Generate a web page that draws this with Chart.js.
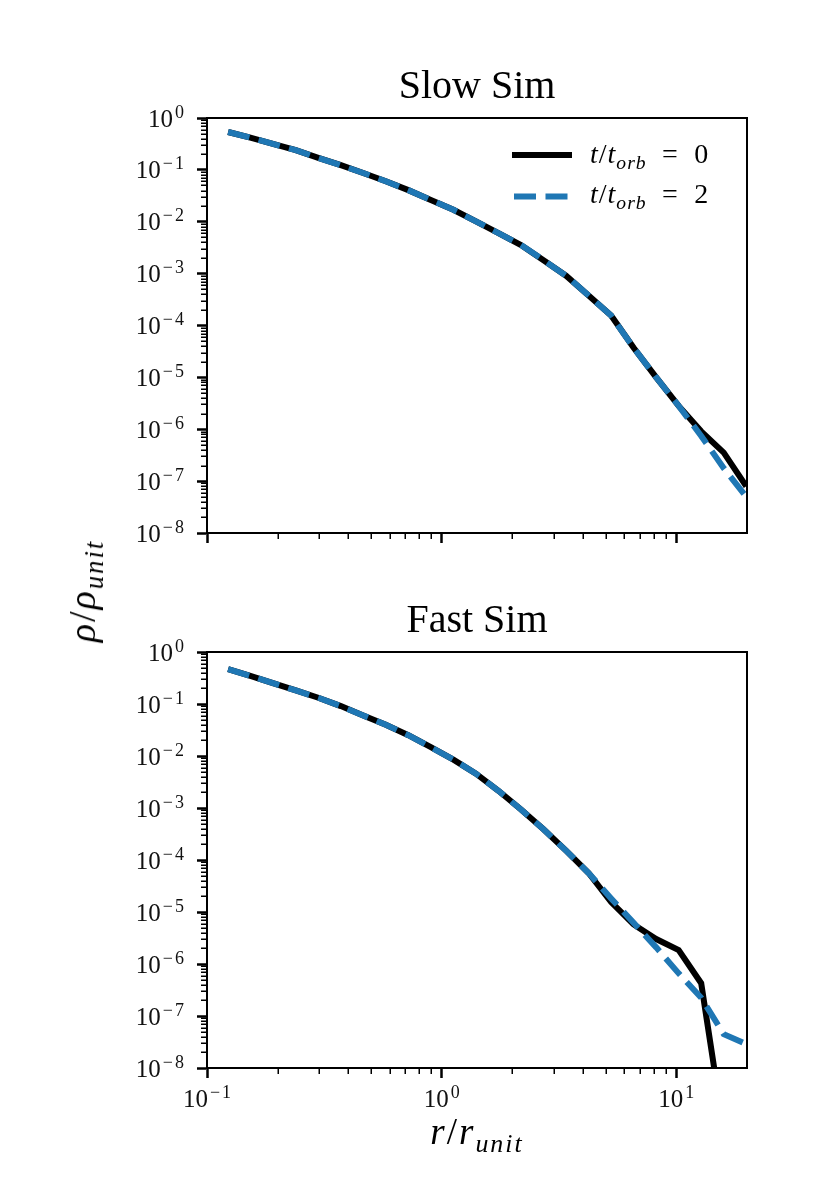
<!DOCTYPE html>
<html>
<head>
<meta charset="utf-8">
<script src="https://cdn.jsdelivr.net/npm/chart.js@4.4.1/dist/chart.umd.min.js"></script>
<style>
  body { margin: 0; background: #fff; }
  #page { position: relative; width: 830px; height: 1186px; overflow: hidden; background: #fff;
          font-family: "Liberation Serif", "DejaVu Serif", serif; color: #000; }
  canvas { position: absolute; left: 0; }
  .txt { position: absolute; line-height: 1; white-space: nowrap; }
  .sub { font-size: 0.7em; position: relative; top: 0.3em; }
  .eq { margin: 0 0.55em; }
  .title { left: 207px; width: 540px; text-align: center; font-size: 40px; }
  .leg { font-size: 28px; letter-spacing: 1px; }
  .axl { letter-spacing: 2px; }
</style>
</head>
<body>
<div id="page">
  <canvas id="slow" width="830" height="593" style="top:0"></canvas>
  <canvas id="fast" width="830" height="593" style="top:593px"></canvas>

  <div class="txt title" style="top:65px">Slow Sim</div>
  <div class="txt title" style="top:599px">Fast Sim</div>

  <svg style="position:absolute;left:0;top:0" width="830" height="240">
    <line x1="512" y1="155" x2="572" y2="155" stroke="#000" stroke-width="6"/>
    <line x1="514" y1="196.5" x2="572" y2="196.5" stroke="#1f77b4" stroke-width="6" stroke-dasharray="22 9.5"/>
  </svg>
  <div class="txt leg" style="left:590px;top:140px"><i>t</i>/<i>t</i><span class="sub"><i>orb</i></span><span class="eq">=</span>0</div>
  <div class="txt leg" style="left:590px;top:180px"><i>t</i>/<i>t</i><span class="sub"><i>orb</i></span><span class="eq">=</span>2</div>

  <div class="txt axl" style="left:82px;top:591px;font-size:38px;transform:translate(-50%,-50%) rotate(-90deg)"><i>ρ</i>/<i>ρ</i><span class="sub"><i>unit</i></span></div>
  <div class="txt axl" style="left:477px;top:1113px;font-size:37px;transform:translateX(-50%)"><i>r</i>/<i>r</i><span class="sub"><i>unit</i></span></div>
</div>

<script>
// radial bins (r / r_unit)
const radius = [0.123, 0.153, 0.191, 0.239, 0.298, 0.372, 0.463, 0.578, 0.721, 0.899,
                1.122, 1.400, 1.746, 2.178, 2.716, 3.388, 4.227, 5.272, 6.577, 8.204,
                10.23, 12.76, 15.92, 19.86];

// density profiles (rho / rho_unit)
const slowT0 = [0.537, 0.417, 0.316, 0.240, 0.170, 0.123, 0.0871, 0.0603, 0.0407, 0.0263,
                0.0170, 0.0102, 6.03e-3, 3.55e-3, 1.82e-3, 9.12e-4, 3.80e-4, 1.55e-4, 3.72e-5, 1.00e-5,
                2.82e-6, 9.12e-7, 3.55e-7, 7.94e-8];
const slowT2 = [0.537, 0.417, 0.316, 0.240, 0.170, 0.123, 0.0871, 0.0603, 0.0407, 0.0263,
                0.0170, 0.0102, 6.03e-3, 3.55e-3, 1.82e-3, 9.12e-4, 3.80e-4, 1.55e-4, 3.72e-5, 1.00e-5,
                2.82e-6, 7.41e-7, 1.78e-7, 5.0e-8];
const fastT0 = [0.468, 0.347, 0.251, 0.182, 0.132, 0.0912, 0.0603, 0.0398, 0.0251, 0.0148,
                8.51e-3, 4.57e-3, 2.14e-3, 9.33e-4, 3.89e-4, 1.51e-4, 5.62e-5, 1.55e-5, 5.75e-6, 3.02e-6,
                1.86e-6, 4.27e-7, 6.3e-10, 3.0e-11];
const fastT2 = [0.468, 0.347, 0.251, 0.182, 0.132, 0.0912, 0.0603, 0.0398, 0.0251, 0.0148,
                8.51e-3, 4.57e-3, 2.14e-3, 9.33e-4, 3.89e-4, 1.51e-4, 5.62e-5, 1.82e-5, 6.17e-6, 2.09e-6,
                6.61e-7, 2.24e-7, 4.47e-8, 2.88e-8];

const xTickValues = [0.1, 1, 10];
const xTickLabels = ['10^−1', '10^0', '10^1'];
const yTickValues = [1e-8, 1e-7, 1e-6, 1e-5, 1e-4, 1e-3, 1e-2, 1e-1, 1];
const yTickLabels = ['10^−8', '10^−7', '10^−6', '10^−5', '10^−4', '10^−3', '10^−2', '10^−1', '10^0'];

const BLUE = '#1f77b4';
const SERIF = 'Liberation Serif, DejaVu Serif, serif';

// draws "10" with a raised exponent, anchored right (y axis) or centred (x axis)
function powerLabel(ctx, label, x, baseline, anchor) {
  const [base, exp] = label.split('^');
  const parts = exp.startsWith('−') ? ['−', exp.slice(1)] : [exp];
  ctx.font = '25px ' + SERIF;
  const bw = ctx.measureText(base).width;
  ctx.font = '18px ' + SERIF;
  const widths = parts.map((p) => ctx.measureText(p).width);
  const ew = widths.reduce((s, w) => s + w, 0) + 2 * parts.length;
  const left = anchor === 'right' ? x - bw - ew : x - (bw + ew) / 2;
  ctx.font = '25px ' + SERIF;
  ctx.fillText(base, left, baseline);
  ctx.font = '18px ' + SERIF;
  let px = left + bw + 2;
  parts.forEach((p, i) => { ctx.fillText(p, px, baseline - 9); px += widths[i] + 2; });
}

// box round the axes, the log minor ticks and the tick labels
const frame = {
  id: 'frame',
  afterDraw(chart) {
    const { ctx, chartArea: a } = chart;
    const opts = chart.options.plugins.frame;
    ctx.save();
    ctx.strokeStyle = '#000';
    ctx.lineWidth = 1.5;
    for (const id of ['x', 'y']) {
      const s = chart.scales[id];
      for (let e = Math.floor(Math.log10(s.min)); e <= Math.ceil(Math.log10(s.max)); e++) {
        for (let m = 2; m <= 9; m++) {
          const v = m * Math.pow(10, e);
          if (v <= s.min || v >= s.max) continue;
          const p = Math.round(s.getPixelForValue(v)) + 0.25;
          ctx.beginPath();
          if (id === 'x') { ctx.moveTo(p, a.bottom); ctx.lineTo(p, a.bottom + 6); }
          else { ctx.moveTo(a.left, p); ctx.lineTo(a.left - 6, p); }
          ctx.stroke();
        }
      }
    }
    ctx.lineWidth = 2;
    ctx.strokeRect(a.left, a.top, a.right - a.left, a.bottom - a.top);

    ctx.fillStyle = '#111';
    ctx.textBaseline = 'alphabetic';
    ctx.textAlign = 'left';
    const ys = chart.scales.y;
    yTickValues.forEach((v, i) => {
      powerLabel(ctx, yTickLabels[i], a.left - 23, ys.getPixelForValue(v) + 8.5, 'right');
    });
    if (opts.xLabels) {
      const xs = chart.scales.x;
      xTickValues.forEach((v, i) => {
        powerLabel(ctx, xTickLabels[i], xs.getPixelForValue(v), a.bottom + 39, 'center');
      });
    }
    ctx.restore();
  }
};

function makeChart(id, t0, t2, box) {
  const line = (vals) => radius.map((r, i) => ({ x: r, y: vals[i] }));
  return new Chart(document.getElementById(id), {
    type: 'line',
    data: {
      datasets: [
        { data: line(t0), borderColor: '#000', borderWidth: 6, pointRadius: 0, order: 2,
          clip: { left: 0, top: 0, right: 0, bottom: 0 } },
        { data: line(t2), borderColor: BLUE, borderWidth: 6, borderDash: [22, 9.5],
          borderCapStyle: 'butt', pointRadius: 0, order: 1,
          clip: { left: 0, top: 0, right: 0, bottom: 0 } }
      ]
    },
    options: {
      responsive: false,
      animation: false,
      layout: { padding: { left: 0, right: 83, top: box.top, bottom: box.bottom } },
      plugins: { legend: { display: false }, tooltip: { enabled: false }, frame: { xLabels: box.labels } },
      scales: {
        x: {
          type: 'logarithmic', min: 0.1, max: 20,
          afterBuildTicks: (s) => { s.ticks = xTickValues.map((v) => ({ value: v })); },
          afterFit: (s) => { s.height = box.xh; },
          ticks: { autoSkip: false, maxRotation: 0, callback: () => '' },
          grid: { drawOnChartArea: false, tickLength: 10, tickWidth: 2.5, tickColor: '#000' },
          border: { color: '#000', width: 2 }
        },
        y: {
          type: 'logarithmic', min: 1e-8, max: 1,
          afterBuildTicks: (s) => { s.ticks = yTickValues.map((v) => ({ value: v })); },
          afterFit: (s) => { s.width = 207; },
          ticks: { autoSkip: false, callback: () => '' },
          grid: { drawOnChartArea: false, tickLength: 10, tickWidth: 2.5, tickColor: '#000' },
          border: { color: '#000', width: 2 }
        }
      }
    },
    plugins: [frame]
  });
}

makeChart('slow', slowT0, slowT2, { top: 118, bottom: 20, xh: 40, labels: false });
makeChart('fast', fastT0, fastT2, { top: 59, bottom: 58, xh: 60, labels: true });
</script>
</body>
</html>
